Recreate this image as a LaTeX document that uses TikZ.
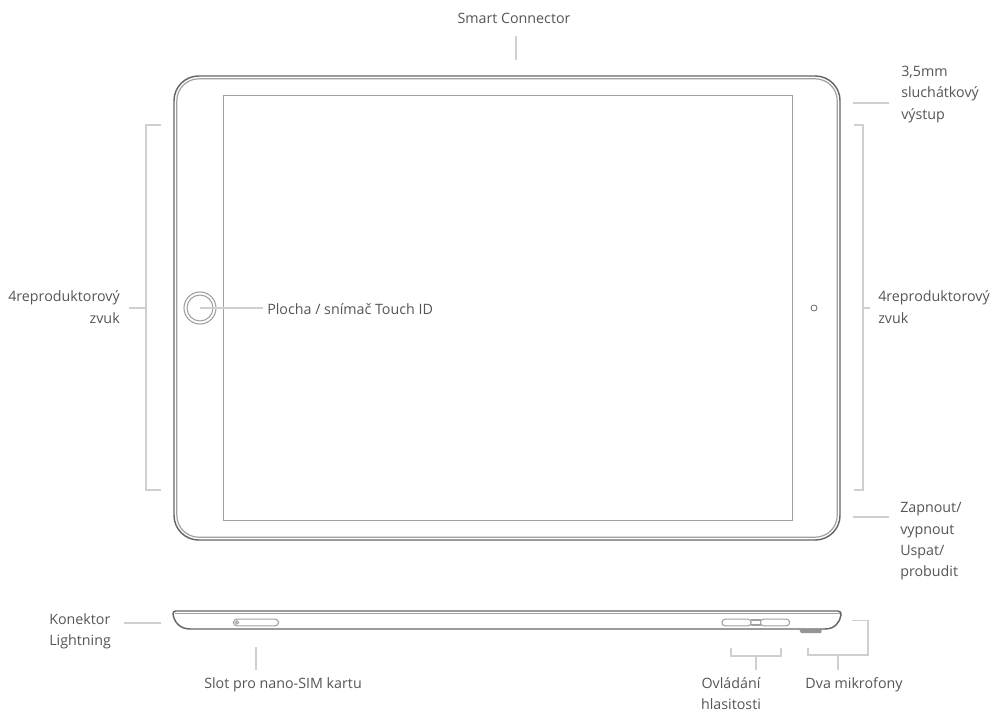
\documentclass[tikz,border=0pt]{standalone}
\usepackage{fontspec}
\setmainfont{Open Sans}
\definecolor{leader}{HTML}{CFCFCF}
\definecolor{body}{HTML}{666666}
\definecolor{bodyin}{HTML}{A0A0A0}
\definecolor{txt}{HTML}{555555}
\tikzset{
 lbl/.style={inner sep=0pt,text=txt,font=\fontsize{10.7pt}{16pt}\selectfont,align=left},
 lblr/.style={lbl,align=right},
 lblc/.style={lbl,align=center},
 leaderline/.style={draw=leader,line width=0.9pt},
 shell/.style={draw=body,line width=1.1pt},
 shellin/.style={draw=bodyin,line width=0.9pt},
 screenbox/.style={draw=bodyin,line width=0.9pt},
 part/.style={draw=bodyin,line width=0.8pt}
}
\begin{document}
\begin{tikzpicture}[x=0.75pt,y=-0.75pt]
\useasboundingbox (0,0) rectangle (992,713);
% front view
\draw[shell,rounded corners=18.5pt] (174,76) rectangle (840,540);
\draw[shellin,rounded corners=16.5pt] (176.8,78.8) rectangle (837.2,537.2);
\node[screenbox,minimum width=426.75pt,minimum height=318.75pt,inner sep=0pt,anchor=north west] (screen) at (223,95) {};
\node[circle,part,minimum size=24pt,inner sep=0pt] (homeo) at (200,308) {};
\node[circle,part,minimum size=19.5pt,inner sep=0pt] (homei) at (200,308) {};
\coordinate (homec) at (200,308);
\node[circle,draw=body,line width=0.6pt,minimum size=4.5pt,inner sep=0pt] (cam) at (814,308) {};
% side view
\draw[shell,fill=white] (176,611) -- (838,611) .. controls (841,611) and (841,613) .. (841,615)
  .. controls (840,622) and (835,629) .. (825,629) -- (190,629) .. controls (180,629) and (174,622) .. (173,614)
  .. controls (173,612) and (174,611) .. (176,611) -- cycle;
\draw[shellin] (175,613.6) -- (840,613.6);
\node[part,rounded corners=2.5pt,minimum width=33.75pt,minimum height=5pt,inner sep=0pt] (sim) at (256,622.5) {};
\node[circle,part,minimum size=2.5pt,inner sep=0pt] (simh) at (237,622.5) {};
\node[part,rounded corners=2.5pt,minimum width=22pt,minimum height=5pt,inner sep=0pt] (volu) at (736.5,622.5) {};
\node[part,rounded corners=2.5pt,minimum width=22pt,minimum height=5pt,inner sep=0pt] (vold) at (775,622.5) {};
\draw[part] (751,620) -- (761,620);
\draw[part] (751,625) -- (761,625);
\fill[body!70!white] (799,629) -- (822,629) -- (821,633) .. controls (820,633) and (802,633) .. (801,633) -- cycle;
% labels
\node[lblc,anchor=north] (smart) at (514,13) {Smart Connector};
\node[lbl,anchor=north west] (jack) at (901,66) {3,5mm\\sluchátkový\\výstup};
\node[lblr,anchor=north east] (spkl) at (120,290.5) {4reproduktorový\\zvuk};
\node[lbl,anchor=north west] (spkr) at (878,290.5) {4reproduktorový\\zvuk};
\node[lbl,anchor=west] (home) at (267,309) {Plocha / snímač Touch ID};
\node[lbl,anchor=north west] (power) at (900,502.5) {Zapnout/\\vypnout\\Uspat/\\probudit};
\node[lbl,anchor=north west] (light) at (49,613) {Konektor\\Lightning};
\node[lblc,anchor=north] (slot) at (283,677) {Slot pro nano-SIM kartu};
\node[lblc,anchor=north] (vol) at (731,677) {Ovládání\\hlasitosti};
\node[lblc,anchor=north] (mic) at (854,677) {Dva mikrofony};
% leaders
\coordinate (smartb) at (516,36); \coordinate (smarte) at (516,60);
\draw[leaderline] (smartb) -- (smarte);
\coordinate (jacka) at (853,103); \coordinate (jackb) at (889,103);
\draw[leaderline] (jacka) -- (jackb);
\coordinate (powa) at (853,517); \coordinate (powb) at (889,517);
\draw[leaderline] (powa) -- (powb);
\coordinate (lspa) at (161,125); \coordinate (lspb) at (161,490);
\coordinate (lspm) at (146,308); \coordinate (lspe) at (129,308);
\draw[leaderline] (lspa) -- (146,125) -- (146,490) -- (lspb);
\draw[leaderline] (lspm) -- (lspe);
\coordinate (rspa) at (854,125); \coordinate (rspb) at (854,490);
\coordinate (rspm) at (863,308); \coordinate (rspe) at (870,308);
\draw[leaderline] (rspa) -- (863,125) -- (863,490) -- (rspb);
\draw[leaderline] (rspm) -- (rspe);
\draw[leaderline,shorten >=3pt] (homec) -- (home.west |- homec);
\coordinate (lightr) at (161,623); \coordinate (lightl) at (124,623);
\draw[leaderline] (lightl) -- (lightr);
\coordinate (slota) at (256,647); \coordinate (slotb) at (256,670);
\draw[leaderline] (slota) -- (slotb);
\coordinate (vola) at (756,656); \coordinate (volb) at (756,670);
\draw[leaderline] (731,648) -- (731,656) -- (781,656) -- (781,648);
\draw[leaderline] (vola) -- (volb);
\coordinate (mica) at (838,655); \coordinate (micb) at (838,670);
\draw[leaderline] (808,648) -- (808,655) -- (868,655) -- (868,620.5) -- (852,620.5);
\draw[leaderline] (mica) -- (micb);
\end{tikzpicture}
\end{document}
